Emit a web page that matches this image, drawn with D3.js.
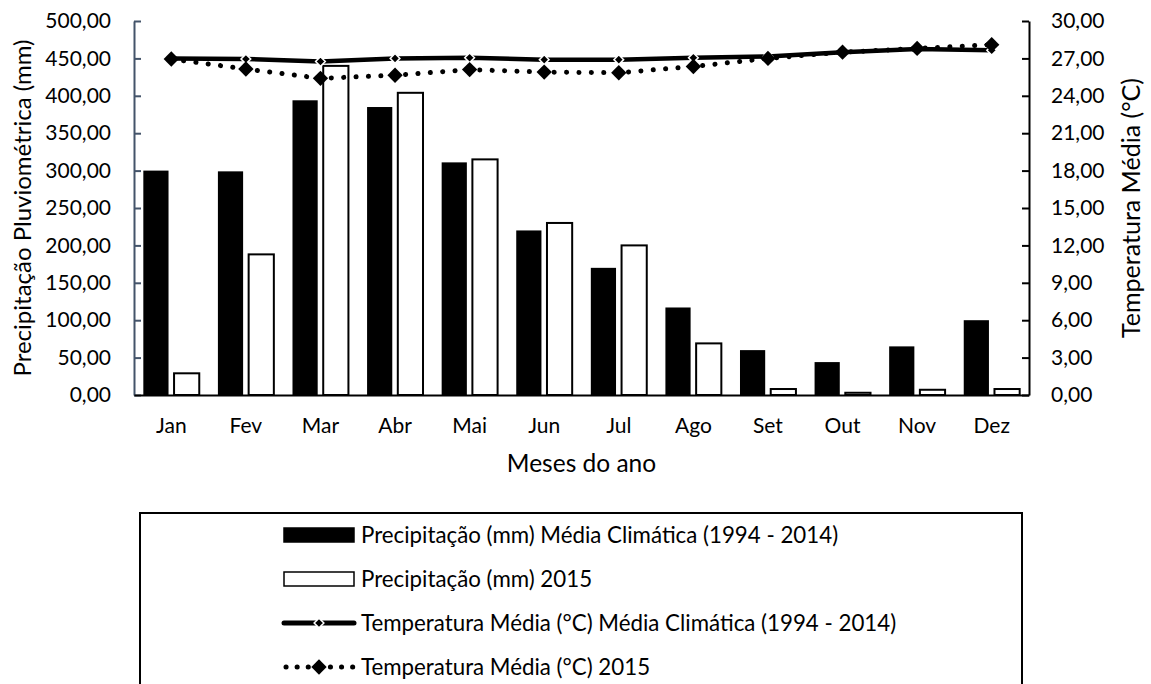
<!DOCTYPE html>
<html>
<head>
<meta charset="utf-8">
<script src="https://cdn.jsdelivr.net/npm/d3@7"></script>
<style>
  body { margin: 0; background: #fff; }
  text { font-family: Lato, "Open Sans", sans-serif; fill: #000; }
</style>
</head>
<body>
<script>
// chart data
var months = ["Jan", "Fev", "Mar", "Abr", "Mai", "Jun", "Jul", "Ago", "Set", "Out", "Nov", "Dez"];
var precipClim = [300, 299, 394, 385, 311, 220, 170, 117, 60, 44, 65, 100];
var precip2015 = [29, 188, 440, 404, 315, 230, 200, 69, 8, 3, 7, 8];
var tempClim = [27.0, 26.95, 26.75, 27.0, 27.05, 26.9, 26.9, 27.05, 27.15, 27.5, 27.75, 27.65];
var temp2015 = [26.95, 26.15, 25.4, 25.65, 26.1, 25.9, 25.85, 26.35, 27.0, 27.5, 27.8, 28.1];
var precipTicks = [0, 50, 100, 150, 200, 250, 300, 350, 400, 450, 500];
var tempTicks = [0, 3, 6, 9, 12, 15, 18, 21, 24, 27, 30];
var legendLabels = [
  "Precipitação (mm) Média Climática (1994 - 2014)",
  "Precipitação (mm) 2015",
  "Temperatura Média (°C) Média Climática (1994 - 2014)",
  "Temperatura Média (°C) 2015"
];

var W = 1151, H = 684;
var margin = {top: 21, right: 122, bottom: 289, left: 134};
var width = W - margin.left - margin.right;
var height = H - margin.top - margin.bottom;

var svg = d3.select("body").append("svg")
    .attr("width", W)
    .attr("height", H);

var g = svg.append("g")
    .attr("transform", "translate(" + margin.left + "," + margin.top + ")");

// scales
var x0 = d3.scaleBand().domain(months).range([0, width]).padding(0);
var x1 = d3.scaleBand().domain([0, 1])
    .range([x0.step() * 0.125, x0.step() * 0.875])
    .paddingInner(0.18);
var yL = d3.scaleLinear().domain([0, 500]).range([height, 0]);
var yR = d3.scaleLinear().domain([0, 30]).range([height, 0]);

var fmt = function(d) { return d.toFixed(2).replace(".", ","); };

// bars
var rows = months.map(function(m, i) { return {m: m, v: [precipClim[i], precip2015[i]]}; });

var groups = g.selectAll(".month")
    .data(rows)
    .enter().append("g")
    .attr("class", "month")
    .attr("transform", function(d) { return "translate(" + x0(d.m) + ",0)"; });

groups.selectAll("rect")
    .data(function(d) { return d.v.map(function(v, k) { return {k: k, v: v}; }); })
    .enter().append("rect")
    .attr("x", function(d) { return x1(d.k); })
    .attr("width", x1.bandwidth())
    .attr("y", function(d) { return yL(d.v); })
    .attr("height", function(d) { return height - yL(d.v); })
    .attr("fill", function(d) { return d.k === 0 ? "#000" : "#fff"; })
    .attr("stroke", function(d) { return d.k === 0 ? "none" : "#000"; })
    .attr("stroke-width", 2);

// axes
var axL = g.append("g")
    .call(d3.axisLeft(yL).tickValues(precipTicks).tickFormat(fmt).tickSizeInner(-7).tickSizeOuter(0).tickPadding(23));
axL.select(".domain").attr("stroke", "#44546a").attr("stroke-width", 2);
axL.selectAll(".tick line").attr("stroke", "#44546a").attr("stroke-width", 2);

var axR = g.append("g")
    .attr("transform", "translate(" + width + ",0)")
    .call(d3.axisRight(yR).tickValues(tempTicks).tickFormat(fmt).tickSizeInner(-7).tickSizeOuter(0).tickPadding(22));
axR.select(".domain").attr("stroke", "#000").attr("stroke-width", 2);
axR.selectAll(".tick line").attr("stroke", "#000").attr("stroke-width", 2);

var axB = g.append("g")
    .attr("transform", "translate(0," + height + ")")
    .call(d3.axisBottom(x0).tickSize(0).tickPadding(23));
axB.select(".domain").attr("stroke", "#000").attr("stroke-width", 2);

[axL, axR, axB].forEach(function(a) {
  a.selectAll("text").style("font-family", "Lato").style("font-size", "21px").attr("fill", "#000");
});

// lines
var cx = function(i) { return x0(months[i]) + x0.bandwidth() / 2; };
var line = d3.line()
    .x(function(d, i) { return cx(i); })
    .y(function(d) { return yR(d); });

var diamondBig = d3.symbol().type(d3.symbolDiamond2).size(150);
var diamondSmall = d3.symbol().type(d3.symbolDiamond2).size(60);

// climatic (solid)
g.append("path")
    .datum(tempClim)
    .attr("d", line)
    .attr("fill", "none")
    .attr("stroke", "#000")
    .attr("stroke-width", 4.5)
    .attr("stroke-linejoin", "round");

g.selectAll(".mclim")
    .data(tempClim)
    .enter().append("path")
    .attr("class", "mclim")
    .attr("d", diamondSmall)
    .attr("transform", function(d, i) { return "translate(" + cx(i) + "," + yR(d) + ")"; })
    .attr("fill", "#000")
    .attr("stroke", "#fff")
    .attr("stroke-width", 1.5);

// 2015 (dotted)
g.append("path")
    .datum(temp2015)
    .attr("d", line)
    .attr("fill", "none")
    .attr("stroke", "#000")
    .attr("stroke-width", 5)
    .attr("stroke-linecap", "round")
    .attr("stroke-dasharray", "0.1 12.3");

g.selectAll(".m2015")
    .data(temp2015)
    .enter().append("path")
    .attr("class", "m2015")
    .attr("d", diamondBig)
    .attr("transform", function(d, i) { return "translate(" + cx(i) + "," + yR(d) + ")"; })
    .attr("fill", "#000");

// axis titles
svg.append("text")
    .attr("transform", "translate(31," + (margin.top + height / 2) + ") rotate(-90)")
    .attr("text-anchor", "middle")
    .style("font-size", "24px")
    .text("Precipitação Pluviométrica (mm)");

svg.append("text")
    .attr("transform", "translate(1140," + (margin.top + height / 2) + ") rotate(-90)")
    .attr("text-anchor", "middle")
    .style("font-size", "25px")
    .text("Temperatura Média (°C)");

svg.append("text")
    .attr("x", margin.left + width / 2)
    .attr("y", 472)
    .attr("text-anchor", "middle")
    .style("font-size", "24.5px")
    .text("Meses do ano");

// legend
svg.append("rect")
    .attr("x", 140)
    .attr("y", 513)
    .attr("width", 882)
    .attr("height", 200)
    .attr("fill", "none")
    .attr("stroke", "#000")
    .attr("stroke-width", 2);

var legY = [535, 579, 623, 667];
var sx0 = 284, sx1 = 354;

var leg = svg.selectAll(".leg")
    .data(legendLabels)
    .enter().append("g")
    .attr("class", "leg")
    .attr("transform", function(d, i) { return "translate(0," + legY[i] + ")"; });

leg.append("text")
    .attr("x", 361)
    .attr("dy", "0.36em")
    .style("font-size", "22.3px")
    .text(function(d) { return d; });

leg.filter(function(d, i) { return i < 2; })
    .append("rect")
    .attr("x", sx0)
    .attr("y", -7)
    .attr("width", sx1 - sx0)
    .attr("height", 14)
    .attr("fill", function(d, i) { return i === 0 ? "#000" : "#fff"; })
    .attr("stroke", "#000")
    .attr("stroke-width", 1.5);

var leg3 = leg.filter(function(d, i) { return i === 2; });
leg3.append("line")
    .attr("x1", sx0).attr("x2", sx1)
    .attr("stroke", "#000").attr("stroke-width", 5).attr("stroke-linecap", "round");
leg3.append("path")
    .attr("d", diamondSmall)
    .attr("transform", "translate(" + (sx0 + sx1) / 2 + ",0)")
    .attr("fill", "#000").attr("stroke", "#fff").attr("stroke-width", 1.5);

var leg4 = leg.filter(function(d, i) { return i === 3; });
leg4.append("line")
    .attr("x1", sx0 + 2).attr("x2", sx1)
    .attr("stroke", "#000").attr("stroke-width", 5).attr("stroke-linecap", "round")
    .attr("stroke-dasharray", "0.1 11");
leg4.append("path")
    .attr("d", diamondBig)
    .attr("transform", "translate(" + (sx0 + sx1) / 2 + ",0)")
    .attr("fill", "#000");
</script>
</body>
</html>
